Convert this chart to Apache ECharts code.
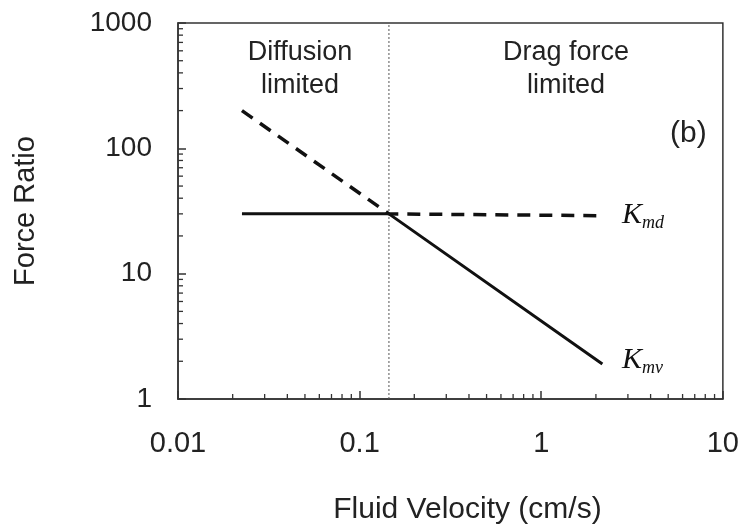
<!DOCTYPE html>
<html>
<head>
<meta charset="utf-8">
<script src="https://cdn.jsdelivr.net/npm/echarts@6/dist/echarts.min.js"></script>
<style>html,body{margin:0;padding:0;background:#fff}#c{width:742px;height:531px}</style>
</head>
<body>
<div id="c"></div>
<script>
// ---- data ----
const kmvX = [0.0225, 0.145, 2.17];
const kmvY = [30, 30, 1.9];
const kmdX = [0.0225, 0.145, 2.16];
const kmdY = [200, 30, 29];
const boundaryX = [0.145, 0.145];
const boundaryY = [1, 1000];
const xTickLabels = [0.01, 0.1, 1, 10];
const yTickLabels = [1, 10, 100, 1000];
const xMinorTicks = [0.02,0.03,0.04,0.05,0.06,0.07,0.08,0.09,0.2,0.3,0.4,0.5,0.6,0.7,0.8,0.9,2,3,4,5,6,7,8,9];
const yMinorTicks = [2,3,4,5,6,7,8,9,20,30,40,50,60,70,80,90,200,300,400,500,600,700,800,900];
const regionLabels = ['Diffusion\nlimited', 'Drag force\nlimited', '(b)'];

const zip = (a, b) => a.map((v, i) => [v, b[i]]);
const FONT = 'Liberation Sans';
const chart = echarts.init(document.getElementById('c'), null, {renderer: 'canvas'});

const minorX = xMinorTicks.map(v => [v, 1]);
const minorY = yMinorTicks.map(v => [0.01, v]);

const kRich = {
  k: {fontFamily: 'Liberation Serif', fontStyle: 'italic', fontSize: 30, fill: '#111', verticalAlign: 'top'},
  s: {fontFamily: 'Liberation Serif', fontStyle: 'italic', fontSize: 18, fill: '#111', padding: [14, 0, 0, 0], verticalAlign: 'top'}
};

chart.setOption({
  animation: false,
  backgroundColor: '#fff',
  grid: {left: 178, right: 16, top: 23, bottom: 132, show: true, borderColor: '#333', borderWidth: 1.5},
  xAxis: {
    type: 'log', logBase: 10, min: 0.01, max: 10,
    name: 'Fluid Velocity (cm/s)', nameLocation: 'middle', nameGap: 96,
    nameTextStyle: {fontFamily: FONT, fontSize: 30, color: '#222', padding: [0, 0, 0, 34]},
    axisLine: {show: true, lineStyle: {color: '#333', width: 1.5}},
    axisTick: {show: true, inside: true, length: 8, lineStyle: {color: '#333', width: 1.5}},
    axisLabel: {fontFamily: FONT, fontSize: 29, color: '#222', margin: 30,
      formatter: v => { const m = xTickLabels.find(t => Math.abs(Math.log10(t) - Math.log10(v)) < 1e-6); return m === undefined ? '' : String(m); }},
    splitLine: {show: false}
  },
  yAxis: {
    type: 'log', logBase: 10, min: 1, max: 1000,
    name: 'Force Ratio', nameLocation: 'middle', nameGap: 138,
    nameTextStyle: {fontFamily: FONT, fontSize: 29, color: '#222'},
    axisLine: {show: true, lineStyle: {color: '#333', width: 1.5}},
    axisTick: {show: true, inside: true, length: 8, lineStyle: {color: '#333', width: 1.5}},
    axisLabel: {fontFamily: FONT, fontSize: 28, color: '#222', margin: 26,
      formatter: v => { const m = yTickLabels.find(t => Math.abs(Math.log10(t) - Math.log10(v)) < 1e-6); return m === undefined ? '' : String(m); }},
    splitLine: {show: false}
  },
  series: [
    {
      type: 'line', name: 'boundary', data: zip(boundaryX, boundaryY), symbol: 'none',
      lineStyle: {color: '#555', width: 1, type: [2, 2]}, z: 1
    },
    {
      type: 'line', name: 'Kmd', data: zip(kmdX, kmdY), symbol: 'none',
      lineStyle: {color: '#111', width: 3.5, type: [13, 9]}, z: 2
    },
    {
      type: 'line', name: 'Kmv', data: zip(kmvX, kmvY), symbol: 'none',
      lineStyle: {color: '#111', width: 3}, z: 3
    },
    {
      type: 'custom', name: 'xminor', data: minorX, clip: false, silent: true,
      renderItem: (params, api) => {
        const p = api.coord([api.value(0), api.value(1)]);
        return {type: 'line', shape: {x1: p[0], y1: p[1], x2: p[0], y2: p[1] - 5}, style: {stroke: '#333', lineWidth: 1.3}};
      }
    },
    {
      type: 'custom', name: 'yminor', data: minorY, clip: false, silent: true,
      renderItem: (params, api) => {
        const p = api.coord([api.value(0), api.value(1)]);
        return {type: 'line', shape: {x1: p[0], y1: p[1], x2: p[0] + 5, y2: p[1]}, style: {stroke: '#333', lineWidth: 1.3}};
      }
    }
  ],
  graphic: [
    {type: 'text', x: 300, y: 36, style: {text: regionLabels[0], font: '27px "Liberation Sans"', fill: '#222', align: 'center', verticalAlign: 'top', lineHeight: 33}, z: 10},
    {type: 'text', x: 566, y: 36, style: {text: regionLabels[1], font: '27px "Liberation Sans"', fill: '#222', align: 'center', verticalAlign: 'top', lineHeight: 33}, z: 10},
    {type: 'text', x: 670, y: 119, style: {text: regionLabels[2], font: '30px "Liberation Sans"', fill: '#222', verticalAlign: 'top'}, z: 10},
    {type: 'text', x: 622, y: 200, style: {text: '{k|K}{s|md}', rich: kRich}, z: 10},
    {type: 'text', x: 622, y: 345, style: {text: '{k|K}{s|mv}', rich: kRich}, z: 10}
  ]
});
</script>
</body>
</html>
